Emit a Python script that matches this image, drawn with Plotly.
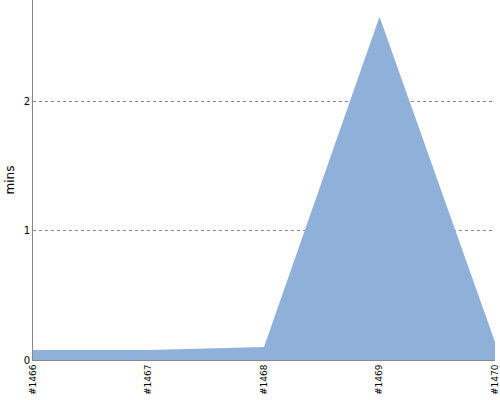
import plotly.graph_objects as go

builds = ["#1466", "#1467", "#1468", "#1469", "#1470"]
mins = [0.078, 0.078, 0.1, 2.66, 0.14]

fig = go.Figure()
fig.add_trace(go.Scatter(
    x=builds, y=mins, mode="lines", fill="tozeroy",
    line=dict(width=0, color="#8fb1d9"), fillcolor="#8fb1d9",
    hoverinfo="x+y",
))
fig.update_layout(
    width=500, height=400,
    margin=dict(l=33, r=5, t=0, b=40, autoexpand=False),
    plot_bgcolor="white", paper_bgcolor="white",
    showlegend=False,
    font=dict(family="DejaVu Sans", size=10, color="black"),
)
fig.update_xaxes(
    type="category", range=[0, 4], showgrid=False, zeroline=False,
    showline=True, linecolor="#888", linewidth=1, automargin=False,
    tickangle=-90, tickfont=dict(size=9), ticks="",
)
fig.update_yaxes(
    range=[0, 2.79], tickvals=[0, 1, 2], showgrid=True,
    gridcolor="#888", griddash="dot", gridwidth=1, zeroline=False,
    showline=True, linecolor="#888", linewidth=1, automargin=False,
    title=dict(text="mins", font=dict(size=12), standoff=6),
    ticks="", tickfont=dict(size=10),
)
fig.write_html(
    "out.html",
    config={"displayModeBar": False},
    post_script="document.body.style.margin='0';document.body.style.overflow='hidden';",
)
